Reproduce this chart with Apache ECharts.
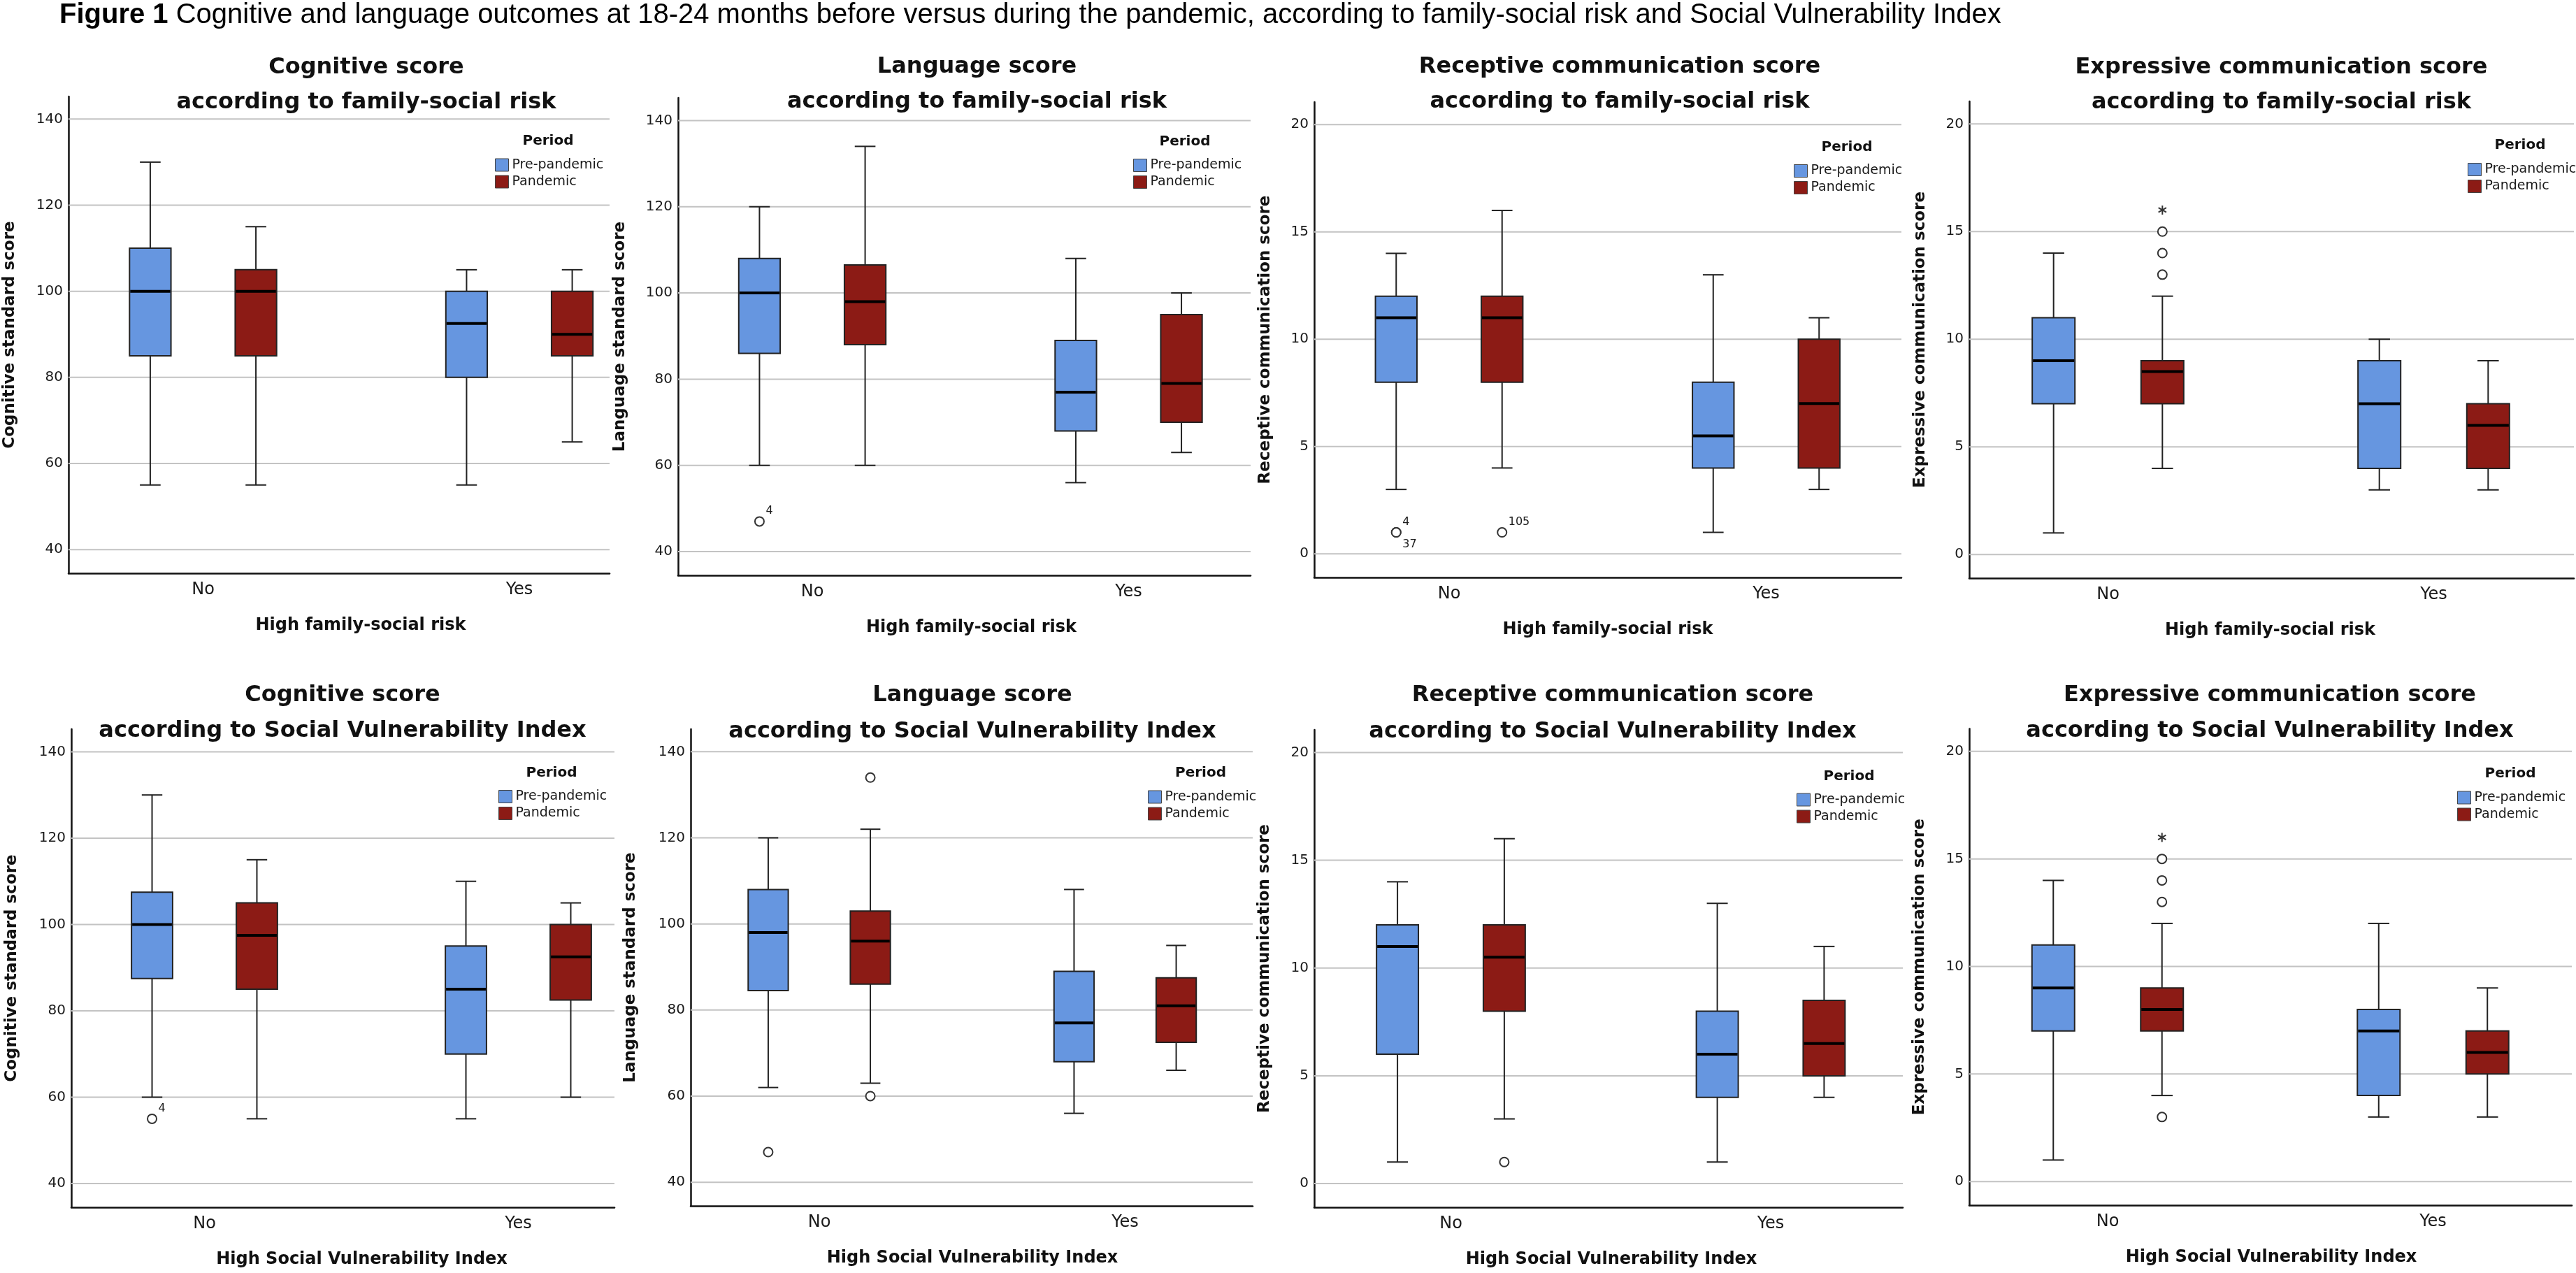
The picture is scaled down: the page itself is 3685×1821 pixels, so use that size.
<!DOCTYPE html>
<html>
<head>
<meta charset="utf-8">
<script src="https://cdn.jsdelivr.net/npm/echarts@6/dist/echarts.min.js"></script>
<style>
html,body{margin:0;padding:0;background:#ffffff;}
#chart{width:3685px;height:1821px;}
</style>
</head>
<body>
<div id="chart"></div>
<script>
// ---------------- DATA ----------------
const categories = ['No', 'Yes'];
const periods = ['Pre-pandemic', 'Pandemic'];
const standardTicks = [40, 60, 80, 100, 120, 140];
const commTicks = [0, 5, 10, 15, 20];
const standardRange = [34.5, 145.25];
const commRange = [-1.1, 21.05];

// box values per category (No, Yes): [lower whisker, Q1, median, Q3, upper whisker]
const cogFamPre  = [[55, 85, 100, 110, 130], [55, 80, 92.5, 100, 105]];
const cogFamPan  = [[55, 85, 100, 105, 115], [65, 85, 90, 100, 105]];
const langFamPre = [[60, 86, 100, 108, 120], [56, 68, 77, 89, 108]];
const langFamPan = [[60, 88, 98, 106.5, 134], [63, 70, 79, 95, 100]];
const recFamPre  = [[3, 8, 11, 12, 14], [1, 4, 5.5, 8, 13]];
const recFamPan  = [[4, 8, 11, 12, 16], [3, 4, 7, 10, 11]];
const expFamPre  = [[1, 7, 9, 11, 14], [3, 4, 7, 9, 10]];
const expFamPan  = [[4, 7, 8.5, 9, 12], [3, 4, 6, 7, 9]];
const cogSviPre  = [[60, 87.5, 100, 107.5, 130], [55, 70, 85, 95, 110]];
const cogSviPan  = [[55, 85, 97.5, 105, 115], [60, 82.5, 92.5, 100, 105]];
const langSviPre = [[62, 84.5, 98, 108, 120], [56, 68, 77, 89, 108]];
const langSviPan = [[63, 86, 96, 103, 122], [66, 72.5, 81, 87.5, 95]];
const recSviPre  = [[1, 6, 11, 12, 14], [1, 4, 6, 8, 13]];
const recSviPan  = [[3, 8, 10.5, 12, 16], [4, 5, 6.5, 8.5, 11]];
const expSviPre  = [[1, 7, 9, 11, 14], [3, 4, 7, 8, 12]];
const expSviPan  = [[4, 7, 8, 9, 12], [3, 5, 6, 7, 9]];

// outliers: [category index, value, case label]
const langFamPreOut = [[0, 47, '4']];
const recFamPreOut  = [[0, 1, '4'], [0, 1, '37']];
const recFamPanOut  = [[0, 1, '105']];
const expFamPanOut  = [[0, 13], [0, 14], [0, 15]];
const expFamPanExt  = [[0, 16]];
const cogSviPreOut  = [[0, 55, '4']];
const langSviPreOut = [[0, 47]];
const langSviPanOut = [[0, 134], [0, 60]];
const recSviPanOut  = [[0, 1]];
const expSviPanOut  = [[0, 3], [0, 13], [0, 14], [0, 15]];
const expSviPanExt  = [[0, 16]];

const figureTitle = 'Cognitive and language outcomes at 18-24 months before versus during the pandemic, according to family-social risk and Social Vulnerability Index';
const famSubtitle = 'according to family-social risk';
const sviSubtitle = 'according to Social Vulnerability Index';
const famAxisName = 'High family-social risk';
const sviAxisName = 'High Social Vulnerability Index';

const panels = [
  {title: 'Cognitive score', sub: famSubtitle, yName: 'Cognitive standard score', xName: famAxisName, ticks: standardTicks, range: standardRange, pre: cogFamPre, pan: cogFamPan, preOut: [], panOut: [], preExt: [], panExt: []},
  {title: 'Language score', sub: famSubtitle, yName: 'Language standard score', xName: famAxisName, ticks: standardTicks, range: standardRange, pre: langFamPre, pan: langFamPan, preOut: langFamPreOut, panOut: [], preExt: [], panExt: []},
  {title: 'Receptive communication score', sub: famSubtitle, yName: 'Receptive communication score', xName: famAxisName, ticks: commTicks, range: commRange, pre: recFamPre, pan: recFamPan, preOut: recFamPreOut, panOut: recFamPanOut, preExt: [], panExt: []},
  {title: 'Expressive communication score', sub: famSubtitle, yName: 'Expressive communication score', xName: famAxisName, ticks: commTicks, range: commRange, pre: expFamPre, pan: expFamPan, preOut: [], panOut: expFamPanOut, preExt: [], panExt: expFamPanExt},
  {title: 'Cognitive score', sub: sviSubtitle, yName: 'Cognitive standard score', xName: sviAxisName, ticks: standardTicks, range: standardRange, pre: cogSviPre, pan: cogSviPan, preOut: cogSviPreOut, panOut: [], preExt: [], panExt: []},
  {title: 'Language score', sub: sviSubtitle, yName: 'Language standard score', xName: sviAxisName, ticks: standardTicks, range: standardRange, pre: langSviPre, pan: langSviPan, preOut: langSviPreOut, panOut: langSviPanOut, preExt: [], panExt: []},
  {title: 'Receptive communication score', sub: sviSubtitle, yName: 'Receptive communication score', xName: sviAxisName, ticks: commTicks, range: commRange, pre: recSviPre, pan: recSviPan, preOut: [], panOut: recSviPanOut, preExt: [], panExt: []},
  {title: 'Expressive communication score', sub: sviSubtitle, yName: 'Expressive communication score', xName: sviAxisName, ticks: commTicks, range: commRange, pre: expSviPre, pan: expSviPan, preOut: [], panOut: expSviPanOut, preExt: [], panExt: expSviPanExt}
];

// ---------------- LAYOUT (pixels) ----------------
const layouts = [
  {L: 98,   T: 138,    R: 872,  B: 820,  no: 290.5,  yes: 743,    yND: 84, xShift: 31, tX: 524,    tY: [97, 147],    pX: 784,    pY: 202,  lgX: 708,  lgY: 236},
  {L: 970,  T: 140,    R: 1789, B: 823,  no: 1162,   yes: 1614.5, yND: 83, xShift: 10, tX: 1397.5, tY: [96, 146],    pX: 1695,   pY: 203,  lgX: 1621, lgY: 236.5},
  {L: 1880, T: 146,    R: 2720, B: 826,  no: 2073,   yes: 2526.5, yND: 70, xShift: 0,  tX: 2317,   tY: [96, 146],    pX: 2642,   pY: 211,  lgX: 2566, lgY: 244.5},
  {L: 2817, T: 145,    R: 3682, B: 827,  no: 3015.5, yes: 3481.5, yND: 70, xShift: -2, tX: 3263.5, tY: [97, 147],    pX: 3605,   pY: 208,  lgX: 3530, lgY: 242.5},
  {L: 102,  T: 1043,   R: 879,  B: 1727, no: 292.5,  yes: 741.5,  yND: 85, xShift: 27, tX: 490,    tY: [995, 1046],  pX: 789,    pY: 1106, lgX: 713,  lgY: 1139.5},
  {L: 988,  T: 1043,   R: 1792, B: 1725, no: 1172,   yes: 1609.5, yND: 86, xShift: 1,  tX: 1391,   tY: [995, 1046.5],pX: 1717.5, pY: 1106, lgX: 1642, lgY: 1140},
  {L: 1880, T: 1044,   R: 2722, B: 1727, no: 2075.5, yes: 2533,   yND: 71, xShift: 4,  tX: 2307,   tY: [995, 1046.5],pX: 2645,   pY: 1111, lgX: 2570, lgY: 1144},
  {L: 2817, T: 1042.5, R: 3679, B: 1724, no: 3015,   yes: 3480.5, yND: 71, xShift: 1,  tX: 3247,   tY: [995, 1046],  pX: 3591,   pY: 1107, lgX: 3515, lgY: 1141}
];

// ---------------- STYLE ----------------
const COLORS = {'Pre-pandemic': '#6696E0', 'Pandemic': '#8C1B15'};
const BOX_OFFSET = 0.167;   // fraction of category spacing
const BOX_WIDTH = 0.131;
const CAP_RATIO = 0.5;
const FONT = '"DejaVu Sans", Verdana, sans-serif';
const TITLE_FONT = '"Liberation Sans", Arial, sans-serif';
const LABEL_BELOW = {'37': true};
const INK = '#1a1a1a';

function boxRender(dir, color) {
  return function (params, api) {
    const cat = api.value(0);
    const lo = api.value(1), q1 = api.value(2), med = api.value(3), q3 = api.value(4), hi = api.value(5);
    const unit = api.size([1, 0])[0];
    const cx = api.coord([cat, med])[0] + dir * unit * BOX_OFFSET;
    const bw = unit * BOX_WIDTH;
    const cw = bw * CAP_RATIO;
    const yLo = api.coord([cat, lo])[1], yQ1 = api.coord([cat, q1])[1], yMed = api.coord([cat, med])[1];
    const yQ3 = api.coord([cat, q3])[1], yHi = api.coord([cat, hi])[1];
    const ws = {stroke: '#222', lineWidth: 2};
    return {
      type: 'group',
      children: [
        {type: 'line', shape: {x1: cx, y1: yHi, x2: cx, y2: yQ3}, style: ws},
        {type: 'line', shape: {x1: cx, y1: yQ1, x2: cx, y2: yLo}, style: ws},
        {type: 'line', shape: {x1: cx - cw / 2, y1: yHi, x2: cx + cw / 2, y2: yHi}, style: ws},
        {type: 'line', shape: {x1: cx - cw / 2, y1: yLo, x2: cx + cw / 2, y2: yLo}, style: ws},
        {type: 'rect', shape: {x: cx - bw / 2, y: yQ3, width: bw, height: yQ1 - yQ3}, style: {fill: color, stroke: '#222', lineWidth: 2}},
        {type: 'line', shape: {x1: cx - bw / 2 + 1, y1: yMed, x2: cx + bw / 2 - 1, y2: yMed}, style: {stroke: '#000', lineWidth: 4}}
      ]
    };
  };
}

function outlierRender(dir, records, extreme) {
  return function (params, api) {
    const rec = records[params.dataIndex];
    const unit = api.size([1, 0])[0];
    const p = api.coord([rec[0], rec[1]]);
    const cx = p[0] + dir * unit * BOX_OFFSET;
    const cy = p[1];
    const children = [];
    if (extreme) {
      const r = 6.5;
      for (let k = 0; k < 3; k++) {
        const a = Math.PI / 2 + k * Math.PI / 3;
        children.push({type: 'line', shape: {x1: cx - r * Math.cos(a), y1: cy - r * Math.sin(a), x2: cx + r * Math.cos(a), y2: cy + r * Math.sin(a)}, style: {stroke: '#333', lineWidth: 2}});
      }
    } else {
      children.push({type: 'circle', shape: {cx: cx, cy: cy, r: 6.5}, style: {fill: '#fff', stroke: '#333', lineWidth: 2}});
    }
    if (rec[2]) {
      const below = LABEL_BELOW[rec[2]];
      children.push({type: 'text', x: cx + 9, y: cy + (below ? 17 : -15),
        style: {text: rec[2], fontSize: 16, fontFamily: FONT, fill: INK, align: 'left', verticalAlign: 'middle', textAlign: 'left', textVerticalAlign: 'middle'}});
    }
    return {type: 'group', children: children};
  };
}

const grids = [], xAxes = [], yAxes = [], series = [], legends = [], graphics = [];

graphics.push({
  type: 'text', x: 85, y: 22,
  style: {
    text: '{b|Figure 1} ' + figureTitle,
    rich: {b: {fontWeight: 'bold', fontSize: 40, fontFamily: TITLE_FONT, fill: '#000'}},
    fontSize: 40, fontFamily: TITLE_FONT, fill: '#000',
    verticalAlign: 'middle', textVerticalAlign: 'middle'
  }
});

panels.forEach(function (pn, i) {
  const g = layouts[i];
  const span = g.yes - g.no;
  grids.push({left: g.L, top: g.T, width: g.R - g.L, height: g.B - g.T, containLabel: false});
  xAxes.push({
    type: 'value', gridIndex: i,
    min: -(g.no - g.L) / span, max: 1 + (g.R - g.yes) / span,
    axisLine: {show: true, onZero: false, lineStyle: {color: '#111', width: 2.5}},
    axisTick: {show: false}, splitLine: {show: false},
    axisLabel: {customValues: [0, 1], formatter: function (v) { return categories[Math.round(v)]; },
      margin: 12, fontSize: 24, fontFamily: FONT, color: INK, showMinLabel: true, showMaxLabel: true},
    name: pn.xName, nameLocation: 'middle', nameGap: 63,
    nameTextStyle: {fontSize: 24, fontWeight: 'bold', fontFamily: FONT, color: '#111',
      padding: g.xShift >= 0 ? [0, 0, 0, 2 * g.xShift] : [0, -2 * g.xShift, 0, 0]}
  });
  yAxes.push({
    type: 'value', gridIndex: i, min: pn.range[0], max: pn.range[1],
    axisLine: {show: true, onZero: false, lineStyle: {color: '#111', width: 2.5}},
    axisTick: {show: false}, splitLine: {show: false},
    axisLabel: {customValues: pn.ticks, margin: 8, fontSize: 20, fontFamily: FONT, color: INK,
      formatter: function (v) { return String(v); }},
    name: pn.yName, nameLocation: 'middle', nameGap: g.yND - 12,
    nameTextStyle: {fontSize: 23, fontWeight: 'bold', fontFamily: FONT, color: '#111'}
  });
  // gridlines
  series.push({
    type: 'custom', xAxisIndex: i, yAxisIndex: i, z: 1, silent: true, name: 'grid' + i,
    data: pn.ticks.map(function (v) { return [0, v]; }),
    encode: {x: 0, y: 1},
    renderItem: function (params, api) {
      const cs = params.coordSys;
      const y = api.coord([0, api.value(1)])[1];
      return {type: 'line', shape: {x1: cs.x, y1: y, x2: cs.x + cs.width, y2: y}, style: {stroke: '#c3c3c3', lineWidth: 2}};
    }
  });
  [[periods[0], pn.pre, -1, pn.preOut, pn.preExt], [periods[1], pn.pan, 1, pn.panOut, pn.panExt]].forEach(function (s) {
    const name = s[0], color = COLORS[name], dir = s[2];
    series.push({
      type: 'custom', name: name, xAxisIndex: i, yAxisIndex: i, z: 3, silent: true,
      itemStyle: {color: color},
      data: s[1].map(function (d, ci) { return [ci].concat(d); }),
      encode: {x: 0, y: [1, 2, 3, 4, 5]},
      renderItem: boxRender(dir, color)
    });
    if (s[3].length) {
      series.push({
        type: 'custom', name: name, xAxisIndex: i, yAxisIndex: i, z: 4, silent: true,
        itemStyle: {color: color},
        data: s[3].map(function (r) { return [r[0], r[1]]; }),
        encode: {x: 0, y: 1},
        renderItem: outlierRender(dir, s[3], false)
      });
    }
    if (s[4].length) {
      series.push({
        type: 'custom', name: name, xAxisIndex: i, yAxisIndex: i, z: 4, silent: true,
        itemStyle: {color: color},
        data: s[4].map(function (r) { return [r[0], r[1]]; }),
        encode: {x: 0, y: 1},
        renderItem: outlierRender(dir, s[4], true)
      });
    }
  });
  legends.push({
    data: periods, orient: 'vertical', left: g.lgX, top: g.lgY - 10, padding: 0,
    itemWidth: 19, itemHeight: 18, itemGap: 4, icon: 'rect', selectedMode: false,
    itemStyle: {borderColor: '#444', borderWidth: 1},
    textStyle: {fontSize: 19, fontFamily: FONT, color: INK, lineHeight: 20}
  });
  graphics.push({type: 'text', x: g.tX, y: g.tY[0], style: {text: pn.title, fontSize: 32, fontWeight: 'bold', fontFamily: FONT, fill: '#111', align: 'center', verticalAlign: 'middle', textAlign: 'center', textVerticalAlign: 'middle'}});
  graphics.push({type: 'text', x: g.tX, y: g.tY[1], style: {text: pn.sub, fontSize: 32, fontWeight: 'bold', fontFamily: FONT, fill: '#111', align: 'center', verticalAlign: 'middle', textAlign: 'center', textVerticalAlign: 'middle'}});
  graphics.push({type: 'text', x: g.pX, y: g.pY, style: {text: 'Period', fontSize: 20, fontWeight: 'bold', fontFamily: FONT, fill: '#111', align: 'center', verticalAlign: 'middle', textAlign: 'center', textVerticalAlign: 'middle'}});
});

const chart = echarts.init(document.getElementById('chart'), null, {renderer: 'canvas'});
chart.setOption({
  backgroundColor: '#ffffff',
  animation: false,
  grid: grids,
  xAxis: xAxes,
  yAxis: yAxes,
  legend: legends,
  series: series,
  graphic: graphics
});
</script>
</body>
</html>
